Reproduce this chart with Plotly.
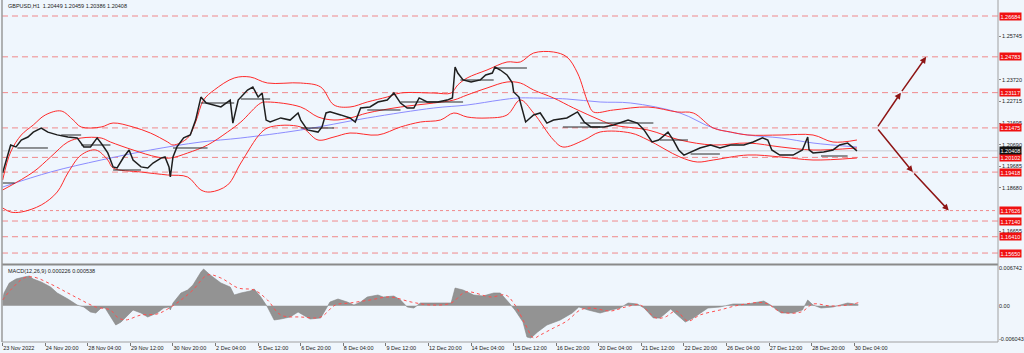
import plotly.graph_objects as go

# ---------------- DATA ----------------
time_labels = ["23 Nov 2022", "24 Nov 20:00", "28 Nov 04:00", "29 Nov 12:00", "30 Nov 20:00",
               "2 Dec 04:00", "5 Dec 12:00", "6 Dec 20:00", "8 Dec 04:00", "9 Dec 12:00",
               "12 Dec 20:00", "14 Dec 04:00", "15 Dec 12:00", "16 Dec 20:00", "20 Dec 04:00",
               "21 Dec 12:00", "22 Dec 20:00", "26 Dec 04:00", "27 Dec 12:00", "28 Dec 20:00",
               "30 Dec 04:00"]
bars_per_label = 32

price_bar = [0, 4, 6, 10, 14, 19, 23, 29, 34, 41, 49, 56, 61, 66, 71, 75, 79, 83, 86, 91, 95, 98,
             104, 109, 113, 119, 122, 125, 126, 128, 131, 136, 141, 145, 149, 153, 159, 164, 171,
             173, 177, 184, 188, 192, 195, 198, 201, 209, 216, 222, 224, 229, 237, 240, 243, 246,
             254, 261, 265, 269, 276, 282, 289, 294, 299, 304, 309, 313, 319, 327, 334, 338, 340,
             342, 346, 352, 359, 363, 368, 370, 374, 379, 383, 384, 388, 391, 393, 399, 404, 409,
             414, 424, 432, 437, 442, 452, 459, 470, 477, 482, 488, 493, 500, 504, 508, 512, 517,
             524, 532, 539, 547, 557, 564, 571, 575, 578, 584, 594, 601, 605, 606, 609, 617, 624,
             629, 635, 642]
price_close = [1.1938, 1.2031, 1.2068, 1.2059, 1.2091, 1.2105, 1.2128, 1.2147, 1.2128, 1.2115,
               1.2105, 1.2101, 1.2059, 1.2059, 1.2101, 1.2068, 1.2031, 1.1966, 1.1961, 1.2012,
               1.2045, 1.1998, 1.1966, 1.1961, 1.1984, 1.2007, 1.2012, 1.1966, 1.1919, 1.2012,
               1.2059, 1.2101, 1.2115, 1.2184, 1.2291, 1.2263, 1.2254, 1.2245, 1.2277, 1.2170,
               1.2277, 1.2324, 1.2338, 1.2291, 1.2310, 1.2184, 1.2175, 1.2194, 1.2184, 1.2217,
               1.2184, 1.2138, 1.2128, 1.2152, 1.2217, 1.2222, 1.2208, 1.2194, 1.2175, 1.2240,
               1.2245, 1.2268, 1.2277, 1.2310, 1.2263, 1.2240, 1.2240, 1.2287, 1.2268, 1.2268,
               1.2277, 1.2287, 1.2431, 1.2403, 1.2371, 1.2361, 1.2371, 1.2394, 1.2403, 1.2431,
               1.2417, 1.2394, 1.2357, 1.2315, 1.2291, 1.2217, 1.2175, 1.2208, 1.2217, 1.2170,
               1.2184, 1.2194, 1.2222, 1.2175, 1.2152, 1.2152, 1.2161, 1.2184, 1.2170, 1.2138,
               1.2082, 1.2091, 1.2128, 1.2091, 1.2045, 1.2021, 1.2035, 1.2054, 1.2068, 1.2054,
               1.2068, 1.2068, 1.2082, 1.2101, 1.2091, 1.2045, 1.2021, 1.2021, 1.2045, 1.2105,
               1.2045, 1.2031, 1.2035, 1.2045, 1.2068, 1.2077, 1.20408]

bb_upper_bar = [0, 6, 14, 23, 32, 44, 53, 59, 74, 83, 98, 111, 124, 128, 139, 145, 151, 159, 174,
                186, 199, 224, 239, 249, 261, 274, 289, 299, 324, 337, 342, 349, 364, 379, 389,
                399, 414, 424, 432, 440, 444, 459, 485, 507, 519, 534, 547, 560, 585, 609, 624, 642]
bb_upper = [1.19050, 1.20353, 1.21145, 1.21610, 1.22076, 1.22262, 1.21843, 1.21517, 1.21517,
            1.21703, 1.21517, 1.21238, 1.20819, 1.20679, 1.21005, 1.21750, 1.22774, 1.23240,
            1.23798, 1.23845, 1.23565, 1.23565, 1.23379, 1.22541, 1.22448, 1.22681, 1.22914,
            1.23100, 1.23100, 1.23100, 1.23472, 1.23798, 1.24171, 1.24543, 1.24543, 1.24962,
            1.25008, 1.24776, 1.24031, 1.22634, 1.22215, 1.22309, 1.22448, 1.22215, 1.22169,
            1.21471, 1.21284, 1.21145, 1.21145, 1.21145, 1.20819, 1.20912]

bb_mid_bar = [0, 23, 36, 49, 59, 74, 81, 98, 116, 126, 139, 154, 169, 179, 194, 199, 224, 237,
              249, 261, 274, 299, 324, 339, 349, 364, 379, 389, 399, 414, 429, 449, 459, 485,
              509, 534, 560, 585, 609, 642]
bb_mid = [1.18585, 1.19422, 1.20121, 1.20819, 1.21005, 1.21005, 1.20819, 1.20447, 1.20121,
          1.20074, 1.20307, 1.20679, 1.21284, 1.21750, 1.22634, 1.22681, 1.22448, 1.21983,
          1.21843, 1.21936, 1.22169, 1.22448, 1.22634, 1.22774, 1.23007, 1.23333, 1.23612,
          1.23565, 1.23240, 1.22867, 1.22402, 1.21843, 1.21610, 1.21378, 1.20912, 1.20679,
          1.20772, 1.20586, 1.20447, 1.20540]

bb_lower_bar = [0, 6, 14, 29, 41, 49, 59, 70, 79, 83, 104, 124, 139, 149, 156, 169, 179, 194,
                201, 224, 237, 249, 261, 282, 299, 314, 329, 339, 349, 364, 379, 389, 399, 414,
                421, 437, 449, 472, 485, 509, 522, 534, 560, 585, 609, 642]
bb_lower = [1.17747, 1.17560, 1.17560, 1.17886, 1.18491, 1.19376, 1.20214, 1.20447, 1.19981,
            1.19609, 1.19422, 1.19283, 1.19190, 1.18585, 1.18491, 1.18817, 1.19841, 1.21238,
            1.21517, 1.21517, 1.20912, 1.21052, 1.21238, 1.21145, 1.21517, 1.21750, 1.21843,
            1.22169, 1.21983, 1.21936, 1.22076, 1.22774, 1.22169, 1.20912, 1.20586, 1.20912,
            1.21284, 1.21238, 1.20912, 1.20121, 1.19888, 1.19981, 1.20214, 1.20121, 1.19981,
            1.20074]

ma_bar = [0, 36, 74, 111, 149, 179, 224, 274, 324, 349, 374, 387, 399, 424, 449, 472, 509, 534,
          560, 585, 609, 642]
ma_value = [1.18724, 1.19422, 1.19981, 1.20447, 1.20819, 1.21005, 1.21378, 1.21936, 1.22402,
            1.22541, 1.22774, 1.22867, 1.22867, 1.22821, 1.22681, 1.22634, 1.22169, 1.21471,
            1.21145, 1.21005, 1.20772, 1.20586]

seg_start = [0, 11, 44, 59, 83, 128, 149, 179, 224, 274, 299, 344, 369, 421, 434, 494, 517, 615]
seg_end = [9, 34, 59, 81, 104, 154, 174, 201, 249, 299, 346, 369, 394, 449, 489, 515, 539, 635]
seg_level = [1.18910, 1.20540, 1.21145, 1.20679, 1.19516, 1.20540, 1.22634, 1.22821, 1.21471,
             1.22309, 1.22681, 1.23705, 1.24263, 1.21517, 1.21703, 1.20912, 1.20260, 1.20167]

level_values = [1.26684, 1.24783, 1.23117, 1.21475, 1.20102, 1.19418, 1.17626, 1.17140, 1.16410, 1.15650]
level_labels = ["1.26684", "1.24783", "1.23117", "1.21475", "1.20102", "1.19418", "1.17626",
                "1.17140", "1.16410", "1.15650"]
level_dotted = [False, False, False, False, False, False, True, False, False, False]

grid_ticks = [1.25745, 1.23720, 1.22715, 1.21695, 1.20690, 1.19685, 1.18680, 1.16655]
grid_tick_text = ["1.25745", "1.23720", "1.22715", "1.21695", "1.20690", "1.19685", "1.18680", "1.16655"]

current_price = 1.20408
ohlc_text = "GBPUSD,H1  1.20449 1.20459 1.20386 1.20408"

# projection arrows: apex -> mid -> end
proj_up_bar = [657, 675, 694]
proj_up_price = [1.21475, 1.23117, 1.24783]
proj_dn_bar = [657, 684, 711]
proj_dn_price = [1.21475, 1.19418, 1.17626]

macd_bar = [0, 1, 5, 10, 16, 20, 23, 29, 36, 41, 49, 56, 61, 66, 70, 74, 77, 81, 85, 89, 94, 98,
            104, 109, 116, 121, 125, 126, 128, 134, 139, 143, 149, 151, 156, 164, 171, 174, 179,
            186, 189, 194, 199, 204, 209, 216, 222, 226, 231, 239, 243, 246, 252, 259, 264, 269,
            274, 282, 286, 294, 299, 304, 309, 314, 324, 337, 340, 346, 354, 361, 369, 374, 380,
            385, 391, 394, 397, 402, 409, 419, 428, 433, 440, 449, 457, 464, 470, 477, 482, 489,
            494, 502, 507, 513, 519, 530, 539, 549, 560, 572, 577, 585, 594, 601, 605, 609, 615,
            624, 635, 643]
macd_hist = [0.00103, 0.00229, 0.00409, 0.00481, 0.00517, 0.00535, 0.00481, 0.00427, 0.00337,
             0.00229, 0.00121, 0.00013, -0.00023, -0.00113, -0.00131, -0.00041, -0.00041,
             -0.00203, -0.00347, -0.00293, -0.00167, -0.00077, -0.00131, -0.00203, -0.00131,
             -0.00041, -0.00023, -0.00077, 0.00049, 0.00229, 0.00283, 0.00373, 0.00607, 0.00661,
             0.00553, 0.00409, 0.00337, 0.00193, 0.00229, 0.00265, 0.00301, 0.00157, -0.00023,
             -0.00257, -0.00239, -0.00203, -0.00113, -0.00167, -0.00239, -0.00221, -0.00041,
             0.00067, 0.00121, 0.00067, 0.00013, 0.00067, 0.00157, 0.00193, 0.00157, 0.00175,
             0.00103, -0.00023, -0.00041, 0.00049, 0.00049, 0.00049, 0.00319, 0.00283, 0.00193,
             0.00175, 0.00229, 0.00229, 0.00067, -0.00077, -0.00293, -0.00563, -0.00581,
             -0.00473, -0.00347, -0.00257, -0.00131, -0.00023, -0.00077, -0.00131, -0.00077,
             -0.00041, 0.00049, 0.00031, -0.00041, -0.00221, -0.00221, -0.00059, -0.00167,
             -0.00293, -0.00221, -0.00041, -0.00023, 0.00031, 0.00031, 0.00085, 0.00013,
             -0.00131, -0.00131, -0.00077, 0.00103, 0.00013, -0.00041, -0.00023, 0.00049, 0.000226]

signal_bar = [0, 6, 16, 23, 36, 49, 59, 70, 81, 86, 92, 104, 116, 124, 134, 143, 154, 164, 177,
              189, 199, 209, 224, 239, 250, 261, 276, 291, 307, 322, 337, 348, 367, 378, 385, 393,
              399, 404, 414, 424, 434, 442, 457, 468, 479, 491, 498, 506, 515, 524, 539, 554, 573,
              585, 600, 609, 622, 635, 643]
signal_value = [0.00103, 0.00283, 0.00499, 0.00517, 0.00391, 0.00229, 0.00103, -0.00023,
                -0.00077, -0.00203, -0.00257, -0.00167, -0.00149, -0.00059, 0.00103, 0.00283,
                0.00553, 0.00499, 0.00319, 0.00283, 0.00103, -0.00167, -0.00203, -0.00203,
                0.00013, 0.00049, 0.00103, 0.00157, 0.00067, 0.00013, 0.00049, 0.00247, 0.00157,
                0.00193, 0.00013, -0.00347, -0.00581, -0.00527, -0.00401, -0.00275, -0.00077,
                -0.00041, -0.00095, -0.00023, 0.00013, -0.00221, -0.00203, -0.00095, -0.00275,
                -0.00167, -0.00077, 0.00013, 0.00049, -0.00113, -0.00113, 0.00031, -0.00005,
                0.00013, 0.000538]

macd_ticks = [0.006742, 0.0, -0.006043]
macd_tick_text = ["0.006742", "0.00", "-0.006043"]
macd_title = "MACD(12,26,9) 0.000226 0.000538"

# ---------------- FIGURE ----------------
FONT = "Liberation Sans, Arial, sans-serif"
fig = go.Figure()

# horizontal levels
for lv, dotted in zip(level_values, level_dotted):
    fig.add_shape(type="line", xref="paper", x0=0, x1=1, yref="y", y0=lv, y1=lv,
                  line=dict(color="rgba(240,110,110,0.8)", width=1,
                            dash="dot" if dotted else "6px,4px"), layer="below")
fig.add_shape(type="line", xref="paper", x0=0, x1=1, yref="y", y0=current_price, y1=current_price,
              line=dict(color="#C8CCD2", width=1), layer="below")

# bollinger + MA
fig.add_trace(go.Scatter(x=ma_bar, y=ma_value, mode="lines", line=dict(color="#8C8CFF", width=1, shape="spline"),
                         xaxis="x", yaxis="y", hoverinfo="skip"))
for bx, by in [(bb_upper_bar, bb_upper), (bb_mid_bar, bb_mid), (bb_lower_bar, bb_lower)]:
    fig.add_trace(go.Scatter(x=bx, y=by, mode="lines", line=dict(color="#FF2A2A", width=1, shape="spline"),
                             xaxis="x", yaxis="y", hoverinfo="skip"))

# black horizontal segments
sx, sy = [], []
for s, e, l in zip(seg_start, seg_end, seg_level):
    sx += [s, e, None]
    sy += [l, l, None]
fig.add_trace(go.Scatter(x=sx, y=sy, mode="lines", line=dict(color="#2b2b2b", width=1),
                         xaxis="x", yaxis="y", hoverinfo="skip"))

# price
fig.add_trace(go.Scatter(x=price_bar, y=price_close, mode="lines", line=dict(color="#1e1e1e", width=1.5),
                         xaxis="x", yaxis="y", hoverinfo="skip"))

# MACD
fig.add_trace(go.Scatter(x=macd_bar, y=macd_hist, mode="lines", fill="tozeroy",
                         fillcolor="#939393", line=dict(color="#858585", width=0.6),
                         xaxis="x2", yaxis="y2", hoverinfo="skip"))
fig.add_trace(go.Scatter(x=signal_bar, y=signal_value, mode="lines",
                         line=dict(color="#FF5050", width=1, dash="dot", shape="spline"),
                         xaxis="x2", yaxis="y2", hoverinfo="skip"))

# projection arrows
for bars, prices in [(proj_up_bar, proj_up_price), (proj_dn_bar, proj_dn_price)]:
    for i in range(len(bars) - 1):
        fig.add_annotation(x=bars[i + 1], y=prices[i + 1], ax=bars[i], ay=prices[i],
                           xref="x", yref="y", axref="x", ayref="y", text="", showarrow=True,
                           arrowhead=2, arrowsize=0.85, arrowwidth=1.5, arrowcolor="#8E1515")

# level labels
for lv, lt in zip(level_values, level_labels):
    fig.add_annotation(xref="paper", x=1, xanchor="left", xshift=1, yref="y", y=lv, text=lt,
                       showarrow=False, bgcolor="#F01010", borderpad=0.5,
                       font=dict(family=FONT, size=5.5, color="white"))
fig.add_annotation(xref="paper", x=1, xanchor="left", xshift=1, yref="y", y=current_price,
                   text="1.20408", showarrow=False, bgcolor="#111111", borderpad=0.5,
                   font=dict(family=FONT, size=5.5, color="white"))

fig.add_annotation(xref="paper", yref="paper", x=0, y=1, xanchor="left", yanchor="top",
                   xshift=4, yshift=-1, text=ohlc_text, showarrow=False,
                   font=dict(family=FONT, size=5.5, color="#222"))
fig.add_annotation(xref="paper", yref="paper", x=0, y=77 / 342, xanchor="left", yanchor="top",
                   xshift=4, yshift=-1, text=macd_title, showarrow=False,
                   font=dict(family=FONT, size=5.5, color="#222"))

# frame
fig.add_shape(type="line", xref="paper", yref="paper", x0=0, x1=1, y0=77.5 / 342, y1=77.5 / 342,
              line=dict(color="#8A8A8A", width=2))
fig.add_shape(type="line", xref="paper", yref="paper", x0=0, x1=0, y0=0, y1=1,
              line=dict(color="#9A9A9A", width=1.5))
fig.add_shape(type="line", xref="paper", yref="paper", x0=1, x1=1, y0=0, y1=1,
              line=dict(color="#A0A0A0", width=1))
fig.add_shape(type="line", xref="paper", yref="paper", x0=0, x1=1, y0=0, y1=0,
              line=dict(color="#A0A0A0", width=1))
fig.add_shape(type="rect", xref="paper", yref="paper", x0=-0.01, x1=1.03, y0=-0.033, y1=-0.05,
              line=dict(width=0), fillcolor="#D8DCE0")

tickvals_x = [i * bars_per_label for i in range(len(time_labels))]
xr = [-0.5, 748]
fig.update_layout(
    width=1024, height=353,
    margin=dict(l=2, r=26, t=0, b=11),
    paper_bgcolor="#F0F6FC", plot_bgcolor="#EFF6FD",
    showlegend=False,
    font=dict(family=FONT, size=5.5, color="#222"),
    xaxis=dict(domain=[0, 1], range=xr, anchor="y", showticklabels=False, showgrid=False,
               zeroline=False, ticks=""),
    yaxis=dict(domain=[78 / 342, 1], range=[1.15140, 1.27429], side="right", anchor="x",
               tickvals=grid_ticks, ticktext=grid_tick_text, showgrid=False, zeroline=False,
               ticks="outside", ticklen=2, tickcolor="#888", tickfont=dict(size=5.5, color="#222")),
    xaxis2=dict(domain=[0, 1], range=xr, anchor="y2", matches="x", tickvals=tickvals_x,
                ticktext=time_labels, ticks="outside", ticklen=3, tickcolor="#777",
                ticklabelposition="outside right", showgrid=False, zeroline=False,
                tickfont=dict(size=5.5, color="#222")),
    yaxis2=dict(domain=[0, 77 / 342], range=[-0.00653, 0.00733], side="right", anchor="x2",
                tickvals=macd_ticks, ticktext=macd_tick_text, showgrid=False, zeroline=False,
                ticks="", tickfont=dict(size=5.5, color="#222")),
)

fig.write_html("out.html")
